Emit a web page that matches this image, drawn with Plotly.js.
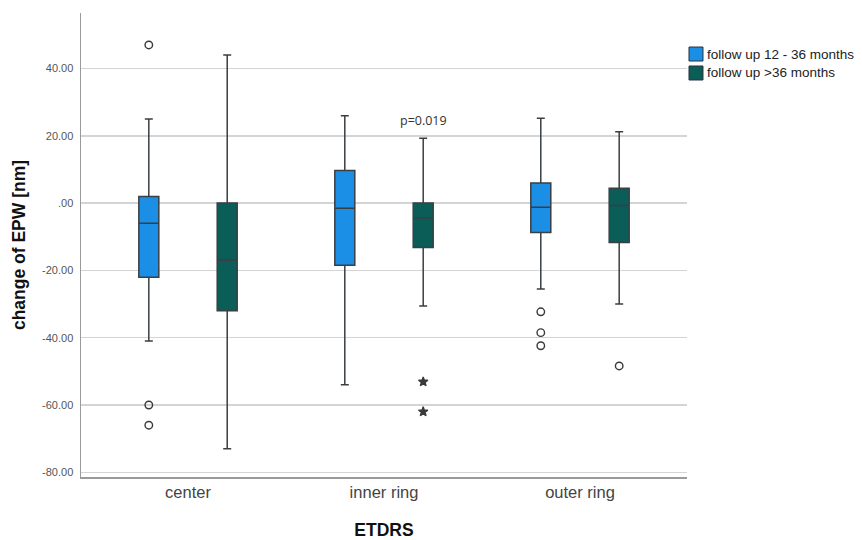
<!DOCTYPE html>
<html>
<head>
<meta charset="utf-8">
<script src="https://cdn.plot.ly/plotly-3.0.1.min.js"></script>
<style>html,body{margin:0;padding:0;background:#fff;}#chart{width:862px;height:540px;}</style>
</head>
<body>
<div id="chart"></div>
<script>
// ---- data ----
var categories = ["center", "inner ring", "outer ring"];
var seriesNames = ["follow up 12 - 36 months", "follow up >36 months"];

// follow up 12 - 36 months
var shortLower = [-41, -54, -25.5];
var shortQ1    = [-22, -18.5, -8.7];
var shortMed   = [-6, -1.5, -1.2];
var shortQ3    = [2, 9.7, 6];
var shortUpper = [25, 26, 25.2];
var shortOutCat = [0, 0, 0, 2, 2, 2];
var shortOutVal = [47, -60, -66, -32.3, -38.5, -42.4];

// follow up >36 months
var longLower = [-73, -30.6, -30];
var longQ1    = [-32, -13.2, -11.7];
var longMed   = [-17, -4.4, -0.7];
var longQ3    = [0, 0, 4.4];
var longUpper = [44, 19.3, 21.2];
var longOutCat = [2];
var longOutVal = [-48.4];
var longExtremeCat = [1, 1];
var longExtremeVal = [-53.1, -62];

var yTickVals = [40, 20, 0, -20, -40, -60, -80];
var yTickText = ["40.00", "20.00", ".00", "-20.00", "-40.00", "-60.00", "-80.00"];

var pText = "p=0.019";
var pCat = 1;
var pVal = 24.7;

// ---- styles ----
var colBlue = "#1b8fe6";
var colTeal = "#0b5d58";
var seriesColors = [colBlue, colTeal];
var boxLine = "#3a3f44";
var BOXGAP = 0.2;
var GROUPGAP = 0.745;
var offset = 0.25 * (1 - BOXGAP);
var catIdx = categories.map(function (c, i) { return i; });

function boxTrace(name, color, lo, q1, med, q3, up) {
  return {
    type: "box", name: name, x: catIdx,
    lowerfence: lo, q1: q1, median: med, q3: q3, upperfence: up,
    fillcolor: color, line: {color: boxLine, width: 1.5},
    whiskerwidth: 0.4, boxpoints: false, showlegend: false,
    hoverinfo: "y"
  };
}
function ptsTrace(cats, vals, off, symbol, size) {
  return {
    type: "scatter", mode: "markers",
    x: cats.map(function (c) { return c + off; }), y: vals,
    marker: {symbol: symbol, size: size, color: "#3a3a3a", line: {color: "#3a3a3a", width: 1.4}},
    showlegend: false, hoverinfo: "y"
  };
}

var data = [
  boxTrace(seriesNames[0], colBlue, shortLower, shortQ1, shortMed, shortQ3, shortUpper),
  boxTrace(seriesNames[1], colTeal, longLower, longQ1, longMed, longQ3, longUpper),
  ptsTrace(shortOutCat, shortOutVal, -offset, "circle-open", 7.5),
  ptsTrace(longOutCat, longOutVal, offset, "circle-open", 7.5),
  ptsTrace(longExtremeCat, longExtremeVal, offset, "star", 7)
];

// legend drawn in paper coordinates (right of the plot area)
var legX0 = 1.0033, legX1 = 1.0264, legTextX = 1.0297;
var legTop = 0.9267, legSw = 0.0302, legStep = 0.0409;
var legShapes = [], legAnn = [];
seriesNames.forEach(function (nm, i) {
  var top = legTop - i * legStep;
  legShapes.push({type: "rect", xref: "paper", yref: "paper",
    x0: legX0, x1: legX1, y0: top - legSw, y1: top,
    fillcolor: seriesColors[i], line: {color: "#2a3540", width: 1}});
  legAnn.push({xref: "paper", yref: "paper", x: legTextX, y: top - legSw / 2,
    xanchor: "left", yanchor: "middle", showarrow: false, text: nm,
    font: {size: 13.5, color: "#222"}});
});

var layout = {
  width: 862, height: 540,
  margin: {l: 81, r: 175, t: 13, b: 63},
  paper_bgcolor: "#fff", plot_bgcolor: "#fff",
  font: {family: "Liberation Sans, Arial, sans-serif", color: "#333"},
  boxmode: "group", boxgap: BOXGAP, boxgroupgap: GROUPGAP,
  showlegend: false,
  xaxis: {
    range: [-0.546, 2.546], tickvals: catIdx, ticktext: categories,
    showgrid: false, zeroline: false, showline: true, linecolor: "#9a9a9a", linewidth: 1.5,
    ticks: "", tickfont: {size: 16.5, color: "#444"},
    title: {text: "<b>ETDRS</b>", font: {size: 17.5, color: "#111"}, standoff: 23}
  },
  yaxis: {
    range: [-81.4, 56.5], tickvals: yTickVals, ticktext: yTickText,
    showgrid: true, gridcolor: "#d4d4d4", gridwidth: 1.5,
    zeroline: false, showline: true, linecolor: "#9a9a9a", linewidth: 1.5,
    ticks: "", ticklabelstandoff: 4, tickfont: {size: 11, color: "#555"},
    title: {text: "<b>change of EPW [nm]</b>", font: {size: 17.5, color: "#111"}, standoff: 12}
  },
  shapes: legShapes,
  annotations: [{
    x: pCat + offset, y: pVal, xref: "x", yref: "y", text: pText, showarrow: false,
    font: {family: "Open Sans, DejaVu Sans, sans-serif", size: 12.5, color: "#333"}
  }].concat(legAnn)
};

Plotly.newPlot("chart", data, layout, {displayModeBar: false, staticPlot: true});
</script>
</body>
</html>
